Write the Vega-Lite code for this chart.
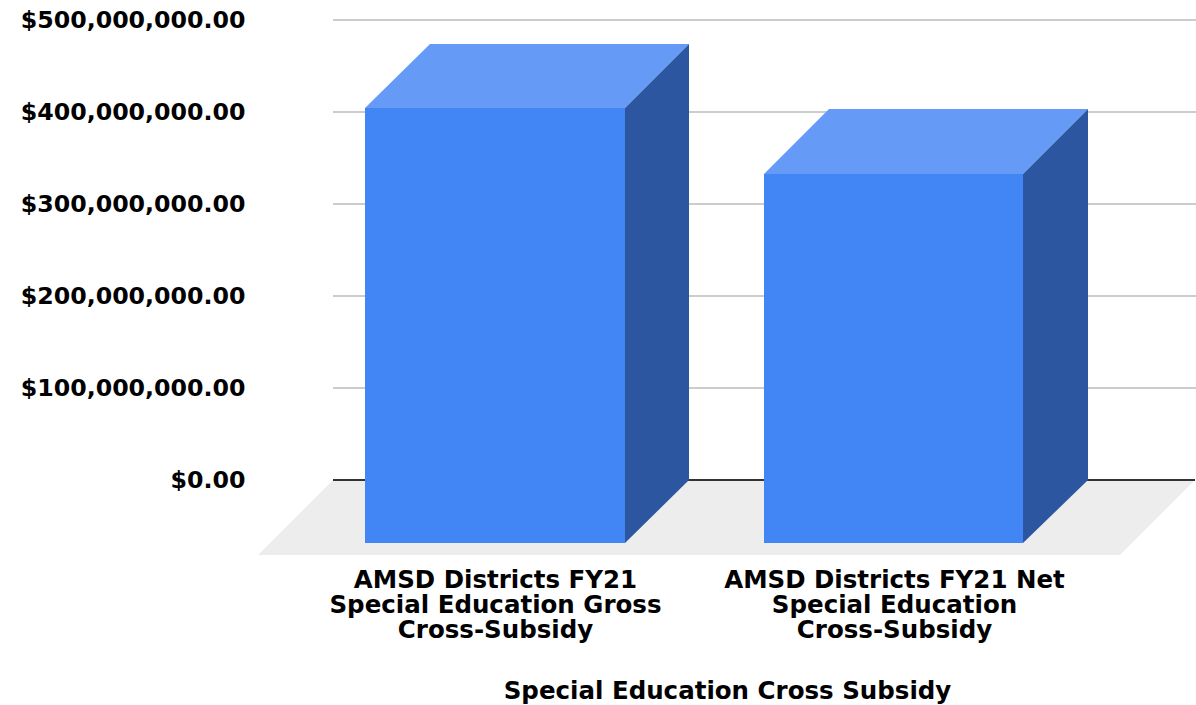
{
"$schema":"https://vega.github.io/schema/vega-lite/v6.json",
"width":938,"height":535,"autosize":{"type":"none"},
"padding":{"left":258,"top":20,"right":0,"bottom":150},
"background":"white",
"view":{"stroke":null},
"datasets":{
"grid":[{"amount":100000000,"from":0.75,"to":9.38},{"amount":200000000,"from":0.75,"to":9.38},{"amount":300000000,"from":0.75,"to":9.38},{"amount":400000000,"from":0.75,"to":9.38},{"amount":500000000,"from":0.75,"to":9.38}],
"zero":[{"amount":0,"from":0.75,"to":9.37}],
"floor":[{"pos":0,"hi":-81500000,"lo":-81500000},{"pos":0.75,"hi":0,"lo":-81500000},{"pos":8.62,"hi":0,"lo":-81500000},{"pos":9.37,"hi":0,"lo":0}],
"faces":[
{"shape":"gross front","part":"front","pos":1.07,"hi":404300000,"lo":-68500000},
{"shape":"gross front","part":"front","pos":3.67,"hi":404300000,"lo":-68500000},
{"shape":"gross top","part":"top","pos":1.07,"hi":404300000,"lo":404300000},
{"shape":"gross top","part":"top","pos":1.72,"hi":473900000,"lo":404300000},
{"shape":"gross top","part":"top","pos":3.67,"hi":473900000,"lo":404300000},
{"shape":"gross top","part":"top","pos":4.31,"hi":473900000,"lo":473900000},
{"shape":"gross side","part":"side","pos":3.67,"hi":404300000,"lo":-68500000},
{"shape":"gross side","part":"side","pos":4.31,"hi":473900000,"lo":0},
{"shape":"net front","part":"front","pos":5.06,"hi":332600000,"lo":-68500000},
{"shape":"net front","part":"front","pos":7.65,"hi":332600000,"lo":-68500000},
{"shape":"net top","part":"top","pos":5.06,"hi":332600000,"lo":332600000},
{"shape":"net top","part":"top","pos":5.71,"hi":403300000,"lo":332600000},
{"shape":"net top","part":"top","pos":7.65,"hi":403300000,"lo":332600000},
{"shape":"net top","part":"top","pos":8.30,"hi":403300000,"lo":403300000},
{"shape":"net side","part":"side","pos":7.65,"hi":332600000,"lo":-68500000},
{"shape":"net side","part":"side","pos":8.30,"hi":403300000,"lo":0}
]},
"layer":[
{"data":{"name":"floor"},"mark":{"type":"area","color":"#ededed","line":false},
"encoding":{
"x":{"field":"pos","type":"quantitative","scale":{"domain":[0,9.38],"nice":false,"zero":false},
"axis":{"values":[2.37,6.36],"grid":false,"domain":false,"ticks":false,"labelPadding":13,"labelFont":"DejaVu Sans","labelFontWeight":"bold","labelFontSize":24.5,"labelColor":"#000","labelLineHeight":25,"labelLimit":0,"labelAngle":0,"labelOverlap":false,"labelBound":false,"labelFlush":false,
"labelExpr":"datum.value < 5 ? ['AMSD Districts FY21','Special Education Gross','Cross-Subsidy'] : ['AMSD Districts FY21 Net','Special Education','Cross-Subsidy']",
"title":"Special Education Cross Subsidy","titleFont":"DejaVu Sans","titleFontWeight":"bold","titleFontSize":24.5,"titleColor":"#000","titlePadding":38,"titleLimit":0}},
"y":{"field":"hi","type":"quantitative","stack":null,"scale":{"domain":[-81500000,500000000],"nice":false,"zero":false},
"axis":{"values":[0,100000000,200000000,300000000,400000000,500000000],"format":"$,.2f","grid":false,"domain":false,"ticks":false,"labelPadding":13,"labelLimit":0,"labelFont":"DejaVu Sans","labelFontWeight":"bold","labelFontSize":23.7,"labelColor":"#000","labelFlush":false,"labelOverlap":false,"labelBound":false,"title":null}},
"y2":{"field":"lo"}}},
{"data":{"name":"grid"},"mark":{"type":"rule","color":"#cccccc","strokeWidth":2},
"encoding":{"x":{"field":"from","type":"quantitative"},"x2":{"field":"to"},"y":{"field":"amount","type":"quantitative"}}},
{"data":{"name":"zero"},"mark":{"type":"rule","color":"#333333","strokeWidth":2},
"encoding":{"x":{"field":"from","type":"quantitative"},"x2":{"field":"to"},"y":{"field":"amount","type":"quantitative"}}},
{"data":{"name":"faces"},"mark":{"type":"area","line":false},
"encoding":{
"x":{"field":"pos","type":"quantitative"},
"y":{"field":"hi","type":"quantitative","stack":null},
"y2":{"field":"lo"},
"detail":{"field":"shape"},
"color":{"field":"part","type":"nominal","legend":null,"scale":{"domain":["front","top","side"],"range":["#4285f4","#659af6","#2c56a0"]}}}}
]
}
